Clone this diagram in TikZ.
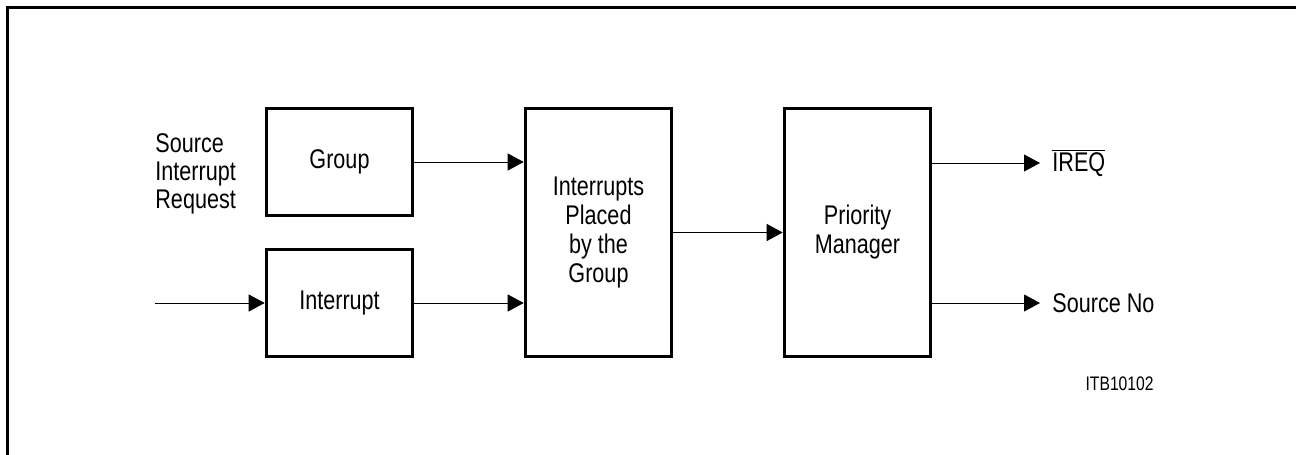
\documentclass[tikz,border=0pt]{standalone}
\usepackage{fontspec}
\setmainfont{Liberation Sans}[FakeStretch=0.8]
\usetikzlibrary{arrows.meta}
\begin{document}
\begin{tikzpicture}[x=0.5pt,y=-0.5pt,>={Triangle[length=8pt,width=8.5pt]},
  block/.style={draw,line width=1.8pt,inner sep=0pt,align=center,
    font=\fontsize{13.5}{14.5}\selectfont},
  sig/.style={->,line width=0.5pt},
  lbl/.style={inner sep=0pt,inner xsep=6pt,align=left,
    font=\fontsize{13.5}{14}\selectfont}]
  \useasboundingbox (0,0) rectangle (1296,455);
  % frame
  \draw[line width=1.5pt] (7,455)--(7,7)--(1296,7);

  % blocks
  \node[block,minimum width=73pt,minimum height=53.5pt] (grp) at (339.5,162) {Group};
  \node[block,minimum width=73pt,minimum height=53.5pt] (intr) at (339.5,303) {Interrupt};
  \node[block,minimum width=73pt,minimum height=124pt] (plc) at (598.5,232.5)
    {Interrupts\\Placed\\by the\\Group};
  \node[block,minimum width=73pt,minimum height=124pt] (pm) at (857.5,232.5)
    {Priority\\Manager};

  % labels
  \node[lbl,inner xsep=0pt,anchor=west] (src) at (155,174) {Source\\Interrupt\\Request};
  \node[lbl,anchor=west] (ireq) at (1040,163) {$\overline{\mbox{IREQ}}$};
  \node[lbl,anchor=west] (srcno) at (1040,303) {Source No};
  \node[inner sep=0pt,anchor=east,font=\fontsize{9.8}{11}\selectfont] (id) at (1154,384) {ITB10102};

  % signals
  \coordinate (in) at (155,303);
  \draw[sig] (in) -- (intr.west);
  \draw[sig] (grp.east) -- (grp.east -| plc.west);
  \draw[sig] (intr.east) -- (intr.east -| plc.west);
  \draw[sig] (plc.east) -- (pm.west);
  \foreach \n in {ireq,srcno}
    \draw[sig] (pm.east |- \n.west) -- (\n.west);
\end{tikzpicture}
\end{document}
